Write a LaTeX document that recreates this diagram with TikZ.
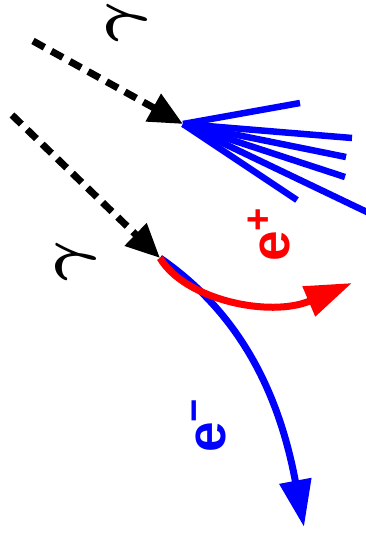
\documentclass[tikz,border=0pt]{standalone}
\usepackage{graphicx}
\usepackage{fontspec}
\newfontfamily\lsans{Liberation Sans}
\usetikzlibrary{arrows.meta}
\definecolor{eblue}{RGB}{0,0,255}
\definecolor{ered}{RGB}{255,0,0}
\tikzset{
  photon/.style={black, line width=7pt, dash pattern=on 13pt off 8pt,
    -{Triangle[length=34pt,width=30pt]}},
  track/.style={line width=6.5pt, line cap=butt},
  lepton/.style={line width=7pt, -{Triangle[length=47pt,width=31pt]}},
  lbl/.style={inner sep=0pt, rotate=90},
  elbl/.style={lbl, font=\lsans\bfseries\fontsize{55}{60}\selectfont},
  glbl/.style={lbl}
}
\newcommand{\biggamma}{\scalebox{6.2}{\boldmath$\gamma$}}
\begin{document}
\begin{tikzpicture}[x=1pt,y=-1pt]
\useasboundingbox (0,0) rectangle (366,533);
% vertices and free ends
\coordinate (v1) at (183,124);
\coordinate (v2) at (160,258);
\coordinate (s1) at (33,41);
\coordinate (s2) at (12,115);
\coordinate (f1) at (300,103);
\coordinate (f2) at (352,138);
\coordinate (f3) at (346,157);
\coordinate (f4) at (345,177);
\coordinate (f5) at (297,200);
\coordinate (f6) at (369,213);
\coordinate (ep) at (352,283);
\coordinate (em) at (304,527);
% shower
\foreach \f in {f1,f2,f3,f4,f5,f6}
  \draw[track, eblue] (v1) -- (\f);
% photons
\draw[photon] (s1) -- (v1);
\draw[photon] (s2) -- (v2);
% pair
\draw[lepton, eblue] (v2) .. controls (250,320) and (282,410) .. (em);
\draw[lepton, ered] (v2) .. controls (185,300) and (270,318) .. (ep);
% labels
\node[glbl] (g1) at (127,22) {\biggamma};
\node[glbl] (g2) at (76,261) {\biggamma};
\node[elbl, anchor=base west, ered] (lp) at (289,262)
  {e\raisebox{18pt}{\fontsize{40}{40}\selectfont +}};
\node[elbl, anchor=base west, eblue] (lm) at (225,453)
  {e\raisebox{18pt}{\fontsize{40}{40}\selectfont −}};
\end{tikzpicture}
\end{document}
